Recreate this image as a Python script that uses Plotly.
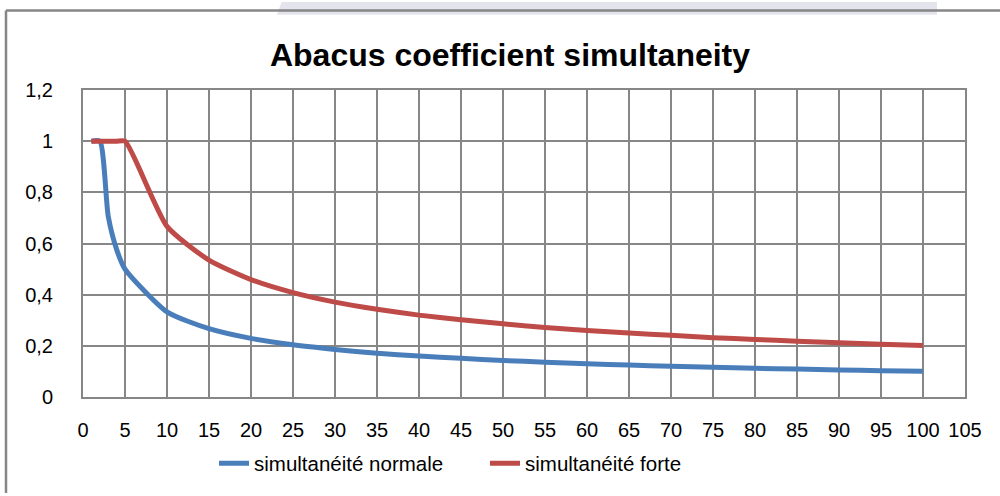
import plotly.graph_objects as go

x_values = [1, 2, 3, 4, 5, 10, 15, 20, 25, 30, 35, 40, 45, 50, 55, 60, 65, 70, 75, 80, 85, 90, 95, 100]
normale = [1.0, 1.0, 0.707, 0.577, 0.5, 0.333, 0.267, 0.229, 0.204, 0.186, 0.171, 0.160, 0.151, 0.143,
           0.136, 0.130, 0.125, 0.120, 0.116, 0.112, 0.109, 0.106, 0.103, 0.1005]
forte = [1.0, 1.0, 1.0, 1.0, 1.0, 0.667, 0.535, 0.459, 0.408, 0.371, 0.343, 0.320, 0.302, 0.286,
         0.272, 0.260, 0.250, 0.241, 0.232, 0.225, 0.218, 0.212, 0.206, 0.201]
series_names = ["simultanéité normale", "simultanéité forte"]
title_text = "Abacus coefficient simultaneity"

W, H = 1000, 496
L, R, T, B = 83, 965, 89.6, 402.3


def px(xp):
    return (xp - L) / (R - L)


def py(yp):
    return (B - yp) / (B - T)


FONT = "Liberation Sans"
GRID = "#878787"

fig = go.Figure()
fig.add_trace(go.Scatter(x=x_values, y=normale, name=series_names[0], mode="lines",
                         line=dict(color="#4a7ebb", width=5, shape="spline", smoothing=0.6)))
fig.add_trace(go.Scatter(x=x_values, y=forte, name=series_names[1], mode="lines",
                         line=dict(color="#be4b48", width=5, shape="spline", smoothing=0.6)))

shapes = [
    dict(type="path", xref="paper", yref="paper",
         path=f"M {px(281.7)},{py(0)} L {px(937)},{py(0)} L {px(937)},{py(13)} L {px(276.7)},{py(13)} Z",
         fillcolor="#e4e4ec", line=dict(width=0), layer="below"),
    dict(type="line", xref="paper", yref="paper", x0=px(6), x1=px(1005), y0=py(8.5), y1=py(8.5),
         line=dict(color="#868686", width=2.5)),
    dict(type="line", xref="paper", yref="paper", x0=px(6), x1=px(6), y0=py(8.5), y1=py(500),
         line=dict(color="#868686", width=2.5)),
]

fig.update_layout(
    width=W, height=H,
    margin=dict(l=L, r=W - R, t=T, b=H - B),
    paper_bgcolor="white", plot_bgcolor="white",
    separators=", ",
    font=dict(family=FONT, size=20, color="black"),
    title=dict(text=f"<b>{title_text}</b>", x=(510) / W, xanchor="center", y=1 - 55 / H, yanchor="middle",
               font=dict(family=FONT, size=32, color="black")),
    xaxis=dict(range=[0, 105], tick0=0, dtick=5, showgrid=True, gridcolor=GRID, gridwidth=2,
               showline=True, linecolor=GRID, linewidth=2, mirror=True, ticks="", zeroline=False,
               ticklabelstandoff=14, tickfont=dict(size=20)),
    yaxis=dict(range=[0, 1.2], tick0=0, dtick=0.2, showgrid=True, gridcolor=GRID, gridwidth=2,
               showline=True, linecolor=GRID, linewidth=2, mirror=True, ticks="", zeroline=False,
               ticklabelstandoff=24, tickfont=dict(size=20)),
    legend=dict(orientation="h", x=px(214), xanchor="left", y=py(470), yanchor="middle",
                font=dict(size=20.5), entrywidth=226, entrywidthmode="pixels", bgcolor="rgba(0,0,0,0)"),
    showlegend=True,
    shapes=shapes,
)

fig.write_html("out.html", config={"displayModeBar": False},
               post_script="document.body.style.margin='0';document.body.style.padding='0';")
